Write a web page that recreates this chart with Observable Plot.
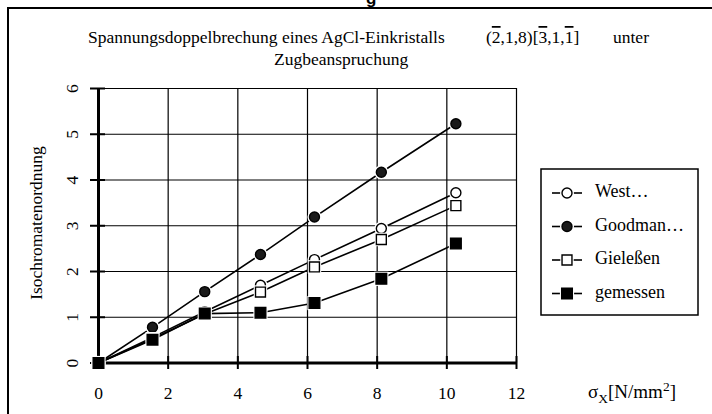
<!DOCTYPE html>
<html><head><meta charset="utf-8">
<script src="https://cdn.jsdelivr.net/npm/d3@7"></script>
<script src="https://cdn.jsdelivr.net/npm/@observablehq/plot@0.6"></script>
<style>
body{margin:0;background:#fff;}
#wrap{position:relative;width:712px;height:414px;overflow:hidden;}
#wrap svg text, #wrap svg tspan{font-family:'Liberation Serif','Times New Roman',serif !important;}
#wrap svg text.sans{font-family:'Liberation Sans',Arial,sans-serif !important;}
</style></head><body><div id="wrap"></div>
<script>
// ---- data ----
const xTicks = [0, 2, 4, 6, 8, 10, 12];
const yTicks = [0, 1, 2, 3, 4, 5, 6];
const sigma = [0, 1.55, 3.05, 4.65, 6.2, 8.12, 10.26];
const west = [0, 0.56, 1.12, 1.70, 2.26, 2.94, 3.72];
const goodman = [0, 0.78, 1.56, 2.37, 3.19, 4.17, 5.23];
const giele = [0, 0.53, 1.07, 1.55, 2.10, 2.70, 3.44];
const gemessen = [0, 0.51, 1.08, 1.10, 1.31, 1.84, 2.61];
const seriesNames = ["West…", "Goodman…", "Gieleßen", "gemessen"];
const titleLine1 = "Spannungsdoppelbrechung eines AgCl-Einkristalls";
const titleLine2 = "Zugbeanspruchung";
const yLabel = "Isochromatenordnung";

const values = [west, goodman, giele, gemessen];
const styles = [
  {symbol: "circle", fill: "white", r: 5},
  {symbol: "circle", fill: "#1a1a1a", r: 5},
  {symbol: "square", fill: "white", r: 5.6},
  {symbol: "square", fill: "black", r: 6}
];
const font = "'Liberation Serif', 'Times New Roman', serif";

const marks = [
  Plot.gridX(xTicks, {stroke: "#000", strokeOpacity: 1, strokeWidth: 1.2}),
  Plot.gridY(yTicks, {stroke: "#000", strokeOpacity: 1, strokeWidth: 1.2}),
  Plot.ruleX([0], {stroke: "#000", strokeWidth: 3}),
  Plot.ruleY([0], {stroke: "#000", strokeWidth: 3}),
  Plot.axisX({ticks: xTicks, tickSize: 13, dy: -6.5, tickFormat: () => "", strokeWidth: 2, label: null}),
  Plot.axisY({ticks: yTicks, tickSize: 15, dx: 7, tickFormat: () => "", strokeWidth: 2, label: null}),
  Plot.text(xTicks, {x: d => d, y: 0, text: d => String(d), dy: 30, fontSize: 17.5, fontFamily: font}),
  Plot.text(yTicks, {x: 0, y: d => d, text: d => String(d), rotate: -90, dx: -26, fontSize: 17.5, fontFamily: font})
];

values.forEach((vals, i) => {
  const rows = sigma.map((s, j) => ({x: s, y: vals[j]}));
  const st = styles[i];
  marks.push(Plot.line(rows, {x: "x", y: "y", stroke: "black", strokeWidth: 1.6}));
  marks.push(Plot.dot(rows, {x: "x", y: "y", symbol: st.symbol, r: st.r + 2, fill: "white", stroke: "none"}));
  marks.push(Plot.dot(rows, {x: "x", y: "y", symbol: st.symbol, r: st.r, fill: st.fill, stroke: "black", strokeWidth: 1.4}));
});

const chart = Plot.plot({
  width: 712, height: 414,
  marginLeft: 98, marginRight: 196, marginTop: 88, marginBottom: 51.5,
  x: {domain: [0, 12], axis: null},
  y: {domain: [0, 6], axis: null},
  style: {fontFamily: font, fontSize: "17px", background: "white", color: "black"},
  marks
});
document.getElementById("wrap").appendChild(chart);

const svg = d3.select(chart);
// border
svg.append("rect").attr("x", 8).attr("y", 8).attr("width", 720).attr("height", 430)
  .attr("fill", "none").attr("stroke", "black").attr("stroke-width", 2);
// clipped title fragment at top
svg.append("text").attr("class", "sans").attr("x", 366).attr("y", 4).attr("text-anchor", "start")
  .attr("font-weight", "bold").attr("font-size", 17).text("g");

// title
svg.append("text").attr("x", 88).attr("y", 43).attr("text-anchor", "start").attr("font-size", 17.5).text(titleLine1);
const t1 = svg.append("text").attr("x", 486).attr("y", 43).attr("text-anchor", "start").attr("font-size", 17.5);
const ov = (s) => t1.append("tspan").attr("text-decoration", "overline").style("text-decoration", "overline").text(s);
t1.append("tspan").text("(");
ov("2"); t1.append("tspan").text(",1,8)["); ov("3"); t1.append("tspan").text(",1,"); ov("1");
t1.append("tspan").text("]");
svg.append("text").attr("x", 613).attr("y", 43).attr("text-anchor", "start").attr("font-size", 17.5).text("unter");
svg.append("text").attr("x", 274).attr("y", 65).attr("text-anchor", "start").attr("font-size", 17.5).text(titleLine2);

// y label
svg.append("text").attr("transform", "translate(38,223) rotate(-90)").attr("text-anchor", "middle")
  .attr("dominant-baseline", "middle").attr("font-size", 17.5).text(yLabel);

// x label
const xl = svg.append("text").attr("x", 588).attr("y", 398).attr("text-anchor", "start").attr("font-size", 19);
xl.append("tspan").text("σ");
xl.append("tspan").attr("dy", 5).attr("font-size", 13.5).text("X");
xl.append("tspan").attr("dy", -5).text("[N/mm");
xl.append("tspan").attr("dy", -7).attr("font-size", 13.5).text("2");
xl.append("tspan").attr("dy", 7).text("]");

// legend
const lg = svg.append("g").attr("transform", "translate(541,169)");
lg.append("rect").attr("width", 157).attr("height", 146).attr("fill", "white").attr("stroke", "black").attr("stroke-width", 1.5);
seriesNames.forEach((name, i) => {
  const cy = 24 + i * 33.5;
  const st = styles[i];
  lg.append("line").attr("x1", 11).attr("x2", 41).attr("y1", cy).attr("y2", cy).attr("stroke", "black").attr("stroke-width", 1.6);
  const sym = st.symbol === "circle" ? d3.symbolCircle : d3.symbolSquare;
  lg.append("path").attr("transform", `translate(26,${cy})`)
    .attr("d", d3.symbol(sym, Math.PI * (st.r + 2) ** 2)()).attr("fill", "white");
  lg.append("path").attr("transform", `translate(26,${cy})`)
    .attr("d", d3.symbol(sym, Math.PI * st.r ** 2)()).attr("fill", st.fill).attr("stroke", "black").attr("stroke-width", 1.4);
  lg.append("text").attr("x", 54).attr("y", cy).attr("text-anchor", "start").attr("dominant-baseline", "middle")
    .attr("font-size", 18).text(name);
});
</script></body></html>
